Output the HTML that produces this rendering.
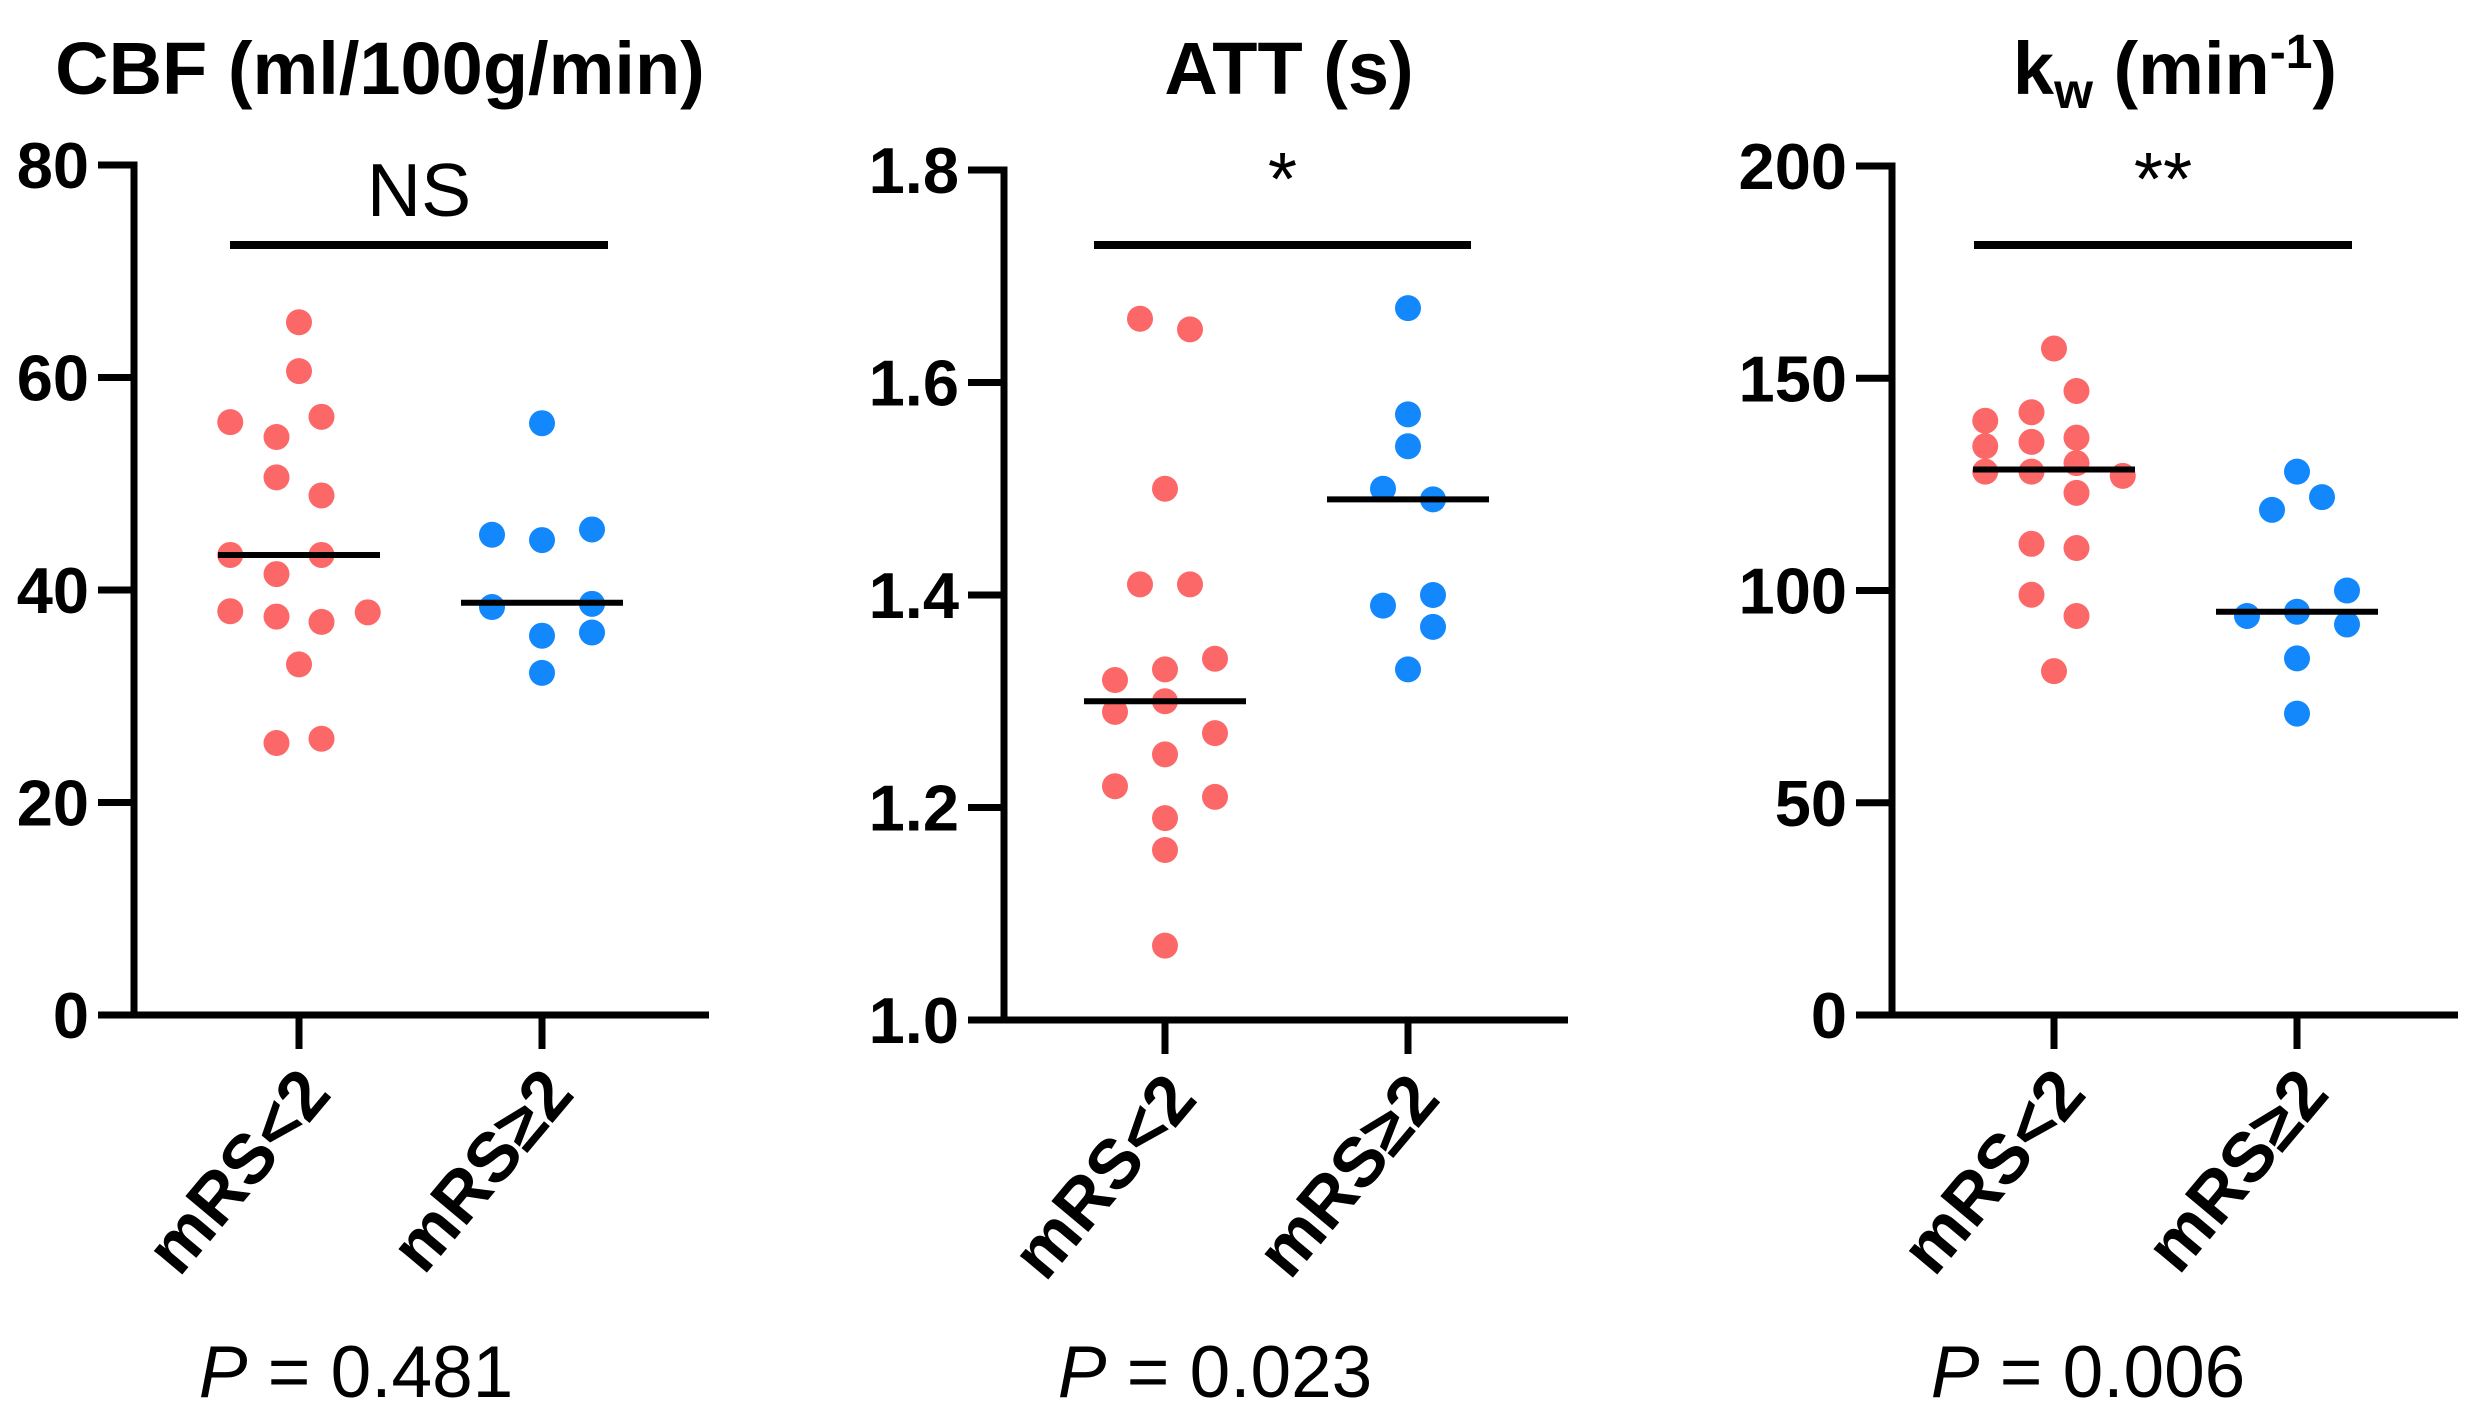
<!DOCTYPE html>
<html><head><meta charset="utf-8"><style>
html,body{margin:0;padding:0;background:#fff;}
svg{display:block;font-family:"Liberation Sans",Arial,sans-serif;}
</style></head><body>
<svg id="fig" width="2489" height="1425" viewBox="0 0 2489 1425" xmlns="http://www.w3.org/2000/svg"></svg>
<script>
const categories = ["mRS<2", "mRS\u22652"];
const titles = ["CBF (ml/100g/min)", "ATT (s)", "kw (min-1)"];
const sigLabels = ["NS", "*", "**"];
const pLabels = ["0.481", "0.023", "0.006"];
const ticks1 = [0, 20, 40, 60, 80];
const ticks2 = [1.0, 1.2, 1.4, 1.6, 1.8];
const ticks3 = [0, 50, 100, 150, 200];
const tickText1 = ["0","20","40","60","80"];
const tickText2 = ["1.0","1.2","1.4","1.6","1.8"];
const tickText3 = ["0","50","100","150","200"];
// CBF
const cbfLow = [65.2, 60.6, 55.8, 54.4, 56.3, 50.6, 48.9, 43.3, 43.3, 41.5, 38.0, 37.5, 37.0, 37.9, 33.0, 25.6, 26.0];
const cbfLowSlot = [0, 0, -2.75, -0.9, 0.9, -0.9, 0.9, -2.75, 0.9, -0.9, -2.75, -0.9, 0.9, 2.75, 0, -0.9, 0.9];
const cbfHigh = [55.7, 45.2, 44.7, 45.7, 38.4, 38.7, 35.7, 36.0, 32.2];
const cbfHighSlot = [0, -2, 0, 2, -2, 2, 0, 2, 0];
const cbfMedians = [43.3, 38.8];
// ATT
const attLow = [1.66, 1.65, 1.50, 1.41, 1.41, 1.32, 1.33, 1.34, 1.29, 1.30, 1.27, 1.25, 1.22, 1.21, 1.19, 1.16, 1.07];
const attLowSlot = [-1, 1, 0, -1, 1, -2, 0, 2, -2, 0, 2, 0, -2, 2, 0, 0, 0];
const attHigh = [1.67, 1.57, 1.54, 1.50, 1.49, 1.39, 1.40, 1.37, 1.33];
const attHighSlot = [0, 0, 0, -1, 1, -1, 1, 1, 0];
const attMedians = [1.30, 1.49];
// kw
const kwLow = [157, 147, 142, 140, 136, 135, 134, 130, 128, 128, 127, 123, 111, 110, 99, 94, 81];
const kwLowSlot = [0, 0.9, -0.9, -2.75, 0.9, -0.9, -2.75, 0.9, -0.9, -2.75, 2.75, 0.9, -0.9, 0.9, -0.9, 0.9, 0];
const kwHigh = [128, 122, 119, 100, 95, 94, 92, 84, 71];
const kwHighSlot = [0, 1, -1, 2, 0, -2, 2, 0, 0];
const kwMedians = [128.5, 95];

const NS = "http://www.w3.org/2000/svg";
const svg = document.getElementById("fig");
function mk(tag, attrs, parent){const e=document.createElementNS(NS,tag);for(const k in attrs)e.setAttribute(k,attrs[k]);(parent||svg).appendChild(e);return e;}

const panels = [
 {ax:134, y0:1015, yT:165, xEnd:709, c:[299,542], min:0, max:80, ticks:ticks1, tt:tickText1, low:cbfLow, lowS:cbfLowSlot, high:cbfHigh, highS:cbfHighSlot, med:cbfMedians, br:[230,608], titleX:380, sigY:216, pX:356, key:"cbf"},
 {ax:1004, y0:1020, yT:170, xEnd:1568, c:[1165,1408], min:1.0, max:1.8, ticks:ticks2, tt:tickText2, low:attLow, lowS:attLowSlot, high:attHigh, highS:attHighSlot, med:attMedians, br:[1094,1471], titleX:1289, sigY:205, pX:1215, key:"att"},
 {ax:1892, y0:1015, yT:166, xEnd:2458, c:[2054,2297], min:0, max:200, ticks:ticks3, tt:tickText3, low:kwLow, lowS:kwLowSlot, high:kwHigh, highS:kwHighSlot, med:kwMedians, br:[1974,2352], titleX:2175, sigY:205, pX:2088, key:"kw"}
];
const slotPx = 25;
panels.forEach((p, i) => {
  const g = mk("g", {});
  
  
  const y = v => p.y0 - (v - p.min) / (p.max - p.min) * (p.y0 - p.yT);
  let t = mk("text", {x:p.titleX, y:94, "text-anchor":"middle", "font-size":74, "font-weight":"bold"}, g);
  if (i === 2) {
    t.innerHTML = 'k<tspan font-size="50" dy="14">w</tspan><tspan dy="-14"> (min</tspan><tspan font-size="48" dy="-26">-1</tspan><tspan dy="26">)</tspan>';
  } else {
    t.textContent = titles[i];
  }
  
  
  const ya = mk("line", {x1:p.ax, y1:p.yT-3.5, x2:p.ax, y2:p.y0+3.5, stroke:"#000", "stroke-width":7}, g);
  
  
  const xa = mk("line", {x1:p.ax-36, y1:p.y0, x2:p.xEnd, y2:p.y0, stroke:"#000", "stroke-width":7}, g);
  
  
  p.ticks.forEach((v, k) => {
    const ty = y(v);
    const tl = mk("line", {x1:p.ax-36, y1:ty, x2:p.ax, y2:ty, stroke:"#000", "stroke-width":7}, g);
    
    
    const tx = mk("text", {x:p.ax-45, y:ty+23, "text-anchor":"end", "font-size":65, "font-weight":"bold"}, g);
    tx.textContent = p.tt[k];
    
    
  });
  categories.forEach((c, k) => {
    const cx = p.c[k];
    const xt = mk("line", {x1:cx, y1:p.y0, x2:cx, y2:p.y0+34, stroke:"#000", "stroke-width":7}, g);
    
    
    const lx = cx + 34, ly = p.y0 + 80;
    const lab = mk("text", {x:lx, y:ly, "text-anchor":"end", "font-size":70, "font-weight":"bold", transform:`rotate(-50 ${lx} ${ly})`}, g);
    lab.textContent = c;
    
    
  });
  const br = mk("line", {x1:p.br[0], y1:245, x2:p.br[1], y2:245, stroke:"#000", "stroke-width":8}, g);
  
  
  const sg = mk("text", {x:(p.br[0]+p.br[1])/2, y:p.sigY, "text-anchor":"middle", "font-size":75}, g);
  sg.textContent = sigLabels[i];
  
  
  const groups = [[p.low, p.lowS, "#fc6868"], [p.high, p.highS, "#1387fc"]];
  groups.forEach((gr, k) => {
    gr[0].forEach((v, j) => {
      const d = mk("circle", {cx:p.c[k] + gr[1][j]*slotPx, cy:y(v), r:13, fill:gr[2]}, g);
      
      
    });
    const m = mk("line", {x1:p.c[k]-81, y1:y(p.med[k]), x2:p.c[k]+81, y2:y(p.med[k]), stroke:"#000", "stroke-width":6}, g);
    
    
  });
  const pt = mk("text", {x:p.pX, y:1397, "text-anchor":"middle", "font-size":73}, g);
  pt.innerHTML = '<tspan font-style="italic">P</tspan> = ' + pLabels[i];
  
  
});
</script>
</body></html>
